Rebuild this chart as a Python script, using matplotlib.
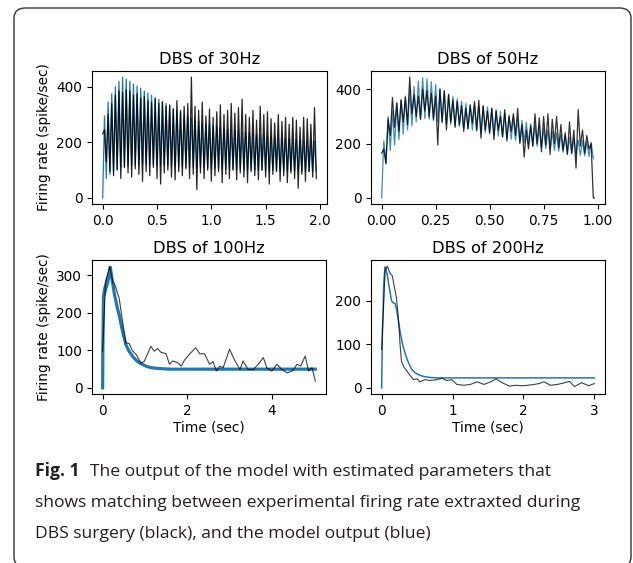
import numpy as np
import matplotlib
matplotlib.use('Agg')
import matplotlib.pyplot as plt
from matplotlib.patches import FancyBboxPatch

# ---------------- data ----------------
titles = ["DBS of 30Hz", "DBS of 50Hz", "DBS of 100Hz", "DBS of 200Hz"]
ylabel = "Firing rate (spike/sec)"
xlabel = "Time (sec)"

# 30 Hz panel: per-cycle peak / trough values (spike/sec)
freq30 = 30.0
black30_start = 230
black30_peaks = [245, 300, 340, 370, 385, 380, 390, 385, 370, 375, 360, 365, 350, 345, 355,
                 340, 345, 330, 335, 320, 350, 315, 330, 340, 435, 330, 315, 345, 295, 320,
                 290, 310, 335, 300, 315, 340, 305, 325, 355, 300, 290, 315, 280, 330, 300,
                 310, 285, 270, 300, 275, 290, 265, 290, 280, 255, 290, 285, 265, 325]
black30_troughs = [130, 95, 80, 100, 70, 110, 90, 75, 105, 85, 60, 95, 80, 110, 70,
                   50, 90, 100, 75, 65, 95, 80, 105, 70, 85, 30, 90, 70, 100, 60,
                   80, 95, 55, 85, 70, 100, 65, 90, 75, 55, 95, 80, 65, 100, 75,
                   50, 85, 95, 60, 80, 55, 90, 70, 35, 85, 60, 95, 75, 70]
blue30_start = 0
blue30_peaks = [295, 345, 375, 400, 420, 435, 428, 420, 410, 402, 395, 385, 377, 370, 362,
                355, 347, 340, 332, 322, 315, 308, 300, 295, 288, 282, 276, 270, 266, 262,
                258, 255, 252, 249, 247, 245, 243, 241, 239, 237, 234, 232, 230, 228, 226,
                224, 222, 220, 218, 216, 215, 213, 212, 210, 209, 207, 206, 205, 204]
blue30_troughs = [70, 85, 95, 102, 108, 112, 115, 117, 118, 119, 120, 120, 120, 119, 118,
                  118, 117, 116, 115, 114, 113, 112, 111, 110, 110, 109, 108, 108, 107, 106,
                  106, 105, 105, 104, 104, 103, 103, 102, 102, 101, 101, 100, 100, 100, 99,
                  99, 99, 98, 98, 98, 97, 97, 97, 96, 96, 96, 95, 95, 95]

# 50 Hz panel
freq50 = 50.0
black50_start = 165
black50_peaks = [180, 290, 370, 350, 360, 370, 445, 380, 375, 400, 395, 385, 375, 400, 395,
                 380, 360, 355, 340, 330, 340, 355, 360, 340, 320, 330, 320, 300, 325, 300,
                 310, 330, 270, 250, 265, 310, 295, 300, 310, 290, 300, 270, 240, 280, 250,
                 325, 250, 230, 200]
black50_troughs = [125, 230, 260, 245, 280, 270, 310, 300, 290, 320, 300, 290, 195, 280, 250,
                   280, 260, 270, 245, 255, 275, 250, 220, 250, 240, 215, 250, 225, 210, 245,
                   230, 200, 150, 180, 190, 200, 170, 195, 160, 200, 185, 175, 160, 165, 110,
                   190, 165, 180, 0]
black50_tail_t = [0.985]
black50_tail_v = [0]
blue50_start = 0
blue50_peaks = [210, 300, 320, 348, 362, 375, 395, 410, 430, 443, 438, 428, 418, 402, 392,
                382, 373, 365, 356, 348, 344, 340, 338, 336, 335, 330, 325, 318, 312, 305,
                298, 291, 285, 278, 273, 267, 262, 256, 250, 245, 240, 234, 228, 223, 218,
                213, 210, 207, 205]
blue50_troughs = [130, 175, 195, 215, 235, 250, 265, 280, 290, 292, 290, 285, 280, 277, 273,
                  270, 267, 263, 258, 254, 250, 246, 243, 240, 236, 232, 228, 224, 220, 216,
                  212, 207, 203, 198, 194, 190, 186, 182, 178, 175, 172, 168, 165, 162, 160,
                  157, 155, 152, 145]

# 100 Hz panel
black100_t = [0.0, 0.07, 0.17, 0.245, 0.28, 0.39, 0.47, 0.55, 0.63, 0.7, 0.8, 0.9, 0.98,
              1.06, 1.14, 1.22, 1.3, 1.38, 1.5, 1.58, 1.66, 1.78, 1.86, 1.94, 2.06, 2.2,
              2.3, 2.41, 2.53, 2.61, 2.69, 2.77, 2.85, 3.0, 3.13, 3.25, 3.32, 3.44, 3.56,
              3.68, 3.8, 3.88, 4.0, 4.12, 4.24, 4.36, 4.48, 4.6, 4.68, 4.79, 4.87, 4.95, 5.03]
black100_v = [98, 284, 324, 280, 278, 240, 178, 120, 118, 100, 88, 67, 70,
              90, 111, 98, 105, 95, 91, 63, 72, 67, 58, 75, 91, 107,
              91, 91, 63, 70, 45, 58, 54, 103, 72, 49, 72, 49, 49,
              63, 81, 54, 45, 63, 49, 40, 45, 63, 58, 85, 45, 54, 18]
blue100_t = [0.0, 0.004, 0.02, 0.05, 0.1, 0.15, 0.18, 0.22, 0.28, 0.35, 0.39, 0.47, 0.55,
             0.63, 0.71, 0.8, 0.87, 0.95, 1.05, 1.15, 1.3, 1.45, 1.6, 2.0, 3.0, 4.0, 5.03]
blue100_v = [0, 90, 245, 265, 285, 305, 322, 292, 249, 212, 195, 151, 115,
             97, 84, 73, 67, 62, 57, 54, 52, 51, 50, 50, 50, 50, 50]
band100_t = [0.01, 0.03, 0.06, 0.10, 0.14, 0.17, 0.20]
band100_lo = [200, 240, 250, 265, 280, 295, 285]
band100_hi = [240, 275, 285, 300, 315, 325, 305]

# 200 Hz panel
black200_t = [0.0, 0.05, 0.08, 0.12, 0.15, 0.175, 0.21, 0.24, 0.26, 0.28, 0.31, 0.36, 0.40,
              0.45, 0.50, 0.54, 0.61, 0.68, 0.78, 0.85, 0.92, 0.99, 1.06, 1.16, 1.25, 1.35,
              1.44, 1.54, 1.61, 1.70, 1.80, 1.89, 1.97, 2.06, 2.15, 2.22, 2.29, 2.38, 2.48,
              2.56, 2.65, 2.72, 2.82, 2.92, 3.0]
black200_v = [88, 270, 280, 263, 258, 236, 206, 152, 99, 61, 49, 38, 29,
              19, 21, 14, 19, 17, 19, 22, 17, 19, 8, 6, 8, 14,
              8, 14, 21, 12, 4, 6, 5, 6, 8, 10, 14, 6, 8,
              11, 15, 3, 12, 5, 10]
blue200_t = [0.0, 0.01, 0.03, 0.047, 0.06, 0.08, 0.1, 0.118, 0.14, 0.17, 0.19, 0.21, 0.24,
             0.26, 0.285, 0.31, 0.36, 0.425, 0.48, 0.54, 0.6, 0.68, 0.8, 1.0, 2.0, 3.0]
blue200_v = [0, 120, 240, 278, 275, 259, 238, 221, 200, 195, 194, 181, 150,
             130, 108, 91, 65, 42, 34, 29, 26, 24, 23, 23, 23, 23]

caption_bold = "Fig. 1"
caption_lines = ["The output of the model with estimated parameters that",
                 "shows matching between experimental firing rate extraxted during",
                 "DBS surgery (black), and the model output (blue)"]


def zigzag(start, peaks, troughs, freq):
    t = [0.0]
    v = [start]
    for i, (p, q) in enumerate(zip(peaks, troughs)):
        t += [(i + 0.5) / freq, (i + 1) / freq]
        v += [p, q]
    return np.array(t), np.array(v)


W, H = 633, 563
fig = plt.figure(figsize=(W / 100, H / 100), dpi=100)
plt.rcParams['font.family'] = ['DejaVu Sans']

# rounded frame (bottom edge falls just outside the picture)
frame = FancyBboxPatch((14 / W, 1 - 567 / H), (631 - 14) / W, (567 - 8) / H,
                       boxstyle="round,pad=0,rounding_size=0.018",
                       transform=fig.transFigure, facecolor='none',
                       edgecolor='#333333', linewidth=1.0, zorder=0, clip_on=False)
fig.patches.append(frame)


def add_ax(l, r, t, b):
    return fig.add_axes([l / W, 1 - b / H, (r - l) / W, (b - t) / H])


ax1 = add_ax(92, 327, 71, 204)
ax2 = add_ax(371, 605, 71, 204)
ax3 = add_ax(92, 326, 260, 394)
ax4 = add_ax(371, 605, 260, 394)

blue = '#1f77b4'
FS = 9.8
TFS = 11.7

t, v = zigzag(blue30_start, blue30_peaks, blue30_troughs, freq30)
ax1.plot(t, v, color=blue, lw=0.9)
t, v = zigzag(black30_start, black30_peaks, black30_troughs, freq30)
ax1.plot(t, v, color='black', lw=0.9, alpha=0.85)

t, v = zigzag(blue50_start, blue50_peaks, blue50_troughs, freq50)
ax2.plot(t, v, color=blue, lw=0.9, alpha=0.85)
t, v = zigzag(black50_start, black50_peaks, black50_troughs, freq50)
t = np.concatenate([t, black50_tail_t]); v = np.concatenate([v, black50_tail_v])
ax2.plot(t, v, color='black', lw=0.9, alpha=0.8)

ax3.fill_between(band100_t, band100_lo, band100_hi, color=blue, lw=0)
ax3.plot(blue100_t, blue100_v, color=blue, lw=2.3)
ax3.plot(black100_t, black100_v, color='black', lw=0.8, alpha=0.75)

ax4.plot(blue200_t, blue200_v, color=blue, lw=1.1)
ax4.plot(black200_t, black200_v, color='black', lw=0.8, alpha=0.75)

ax1.set_xticks([0, 0.5, 1.0, 1.5, 2.0]); ax1.set_xticklabels(['0.0', '0.5', '1.0', '1.5', '2.0'])
ax1.set_yticks([0, 200, 400])
ax2.set_xticks([0, 0.25, 0.5, 0.75, 1.0]); ax2.set_xticklabels(['0.00', '0.25', '0.50', '0.75', '1.00'])
ax2.set_yticks([0, 200, 400])
ax3.set_xticks([0, 2, 4]); ax3.set_yticks([0, 100, 200, 300])
ax4.set_xticks([0, 1, 2, 3]); ax4.set_yticks([0, 100, 200])

for ax, ttl in zip([ax1, ax2, ax3, ax4], titles):
    ax.set_title(ttl, fontsize=TFS, pad=5)
    ax.tick_params(labelsize=FS, length=3.5, width=0.8)
    for s in ax.spines.values():
        s.set_linewidth(0.8)
ax1.set_ylabel(ylabel, fontsize=FS)
ax3.set_ylabel(ylabel, fontsize=FS)
ax3.set_xlabel(xlabel, fontsize=FS, labelpad=2)
ax4.set_xlabel(xlabel, fontsize=FS, labelpad=2)

# caption
cap_fam = ['Open Sans', 'DejaVu Sans']
cap_fs = 12.6
cap_col = '#231f20'
baselines = [476, 507, 538]
tb = fig.text(35 / W, 1 - baselines[0] / H, caption_bold, fontsize=cap_fs, family=cap_fam,
              weight='bold', va='baseline', ha='left', color=cap_col)
fig.canvas.draw()
bb = tb.get_window_extent()
fig.text((bb.x1 + 11) / W, 1 - baselines[0] / H, caption_lines[0], fontsize=cap_fs,
         family=cap_fam, va='baseline', ha='left', color=cap_col)
for line, y in zip(caption_lines[1:], baselines[1:]):
    fig.text(35 / W, 1 - y / H, line, fontsize=cap_fs, family=cap_fam,
             va='baseline', ha='left', color=cap_col)

fig.savefig('out.png', dpi=100)
